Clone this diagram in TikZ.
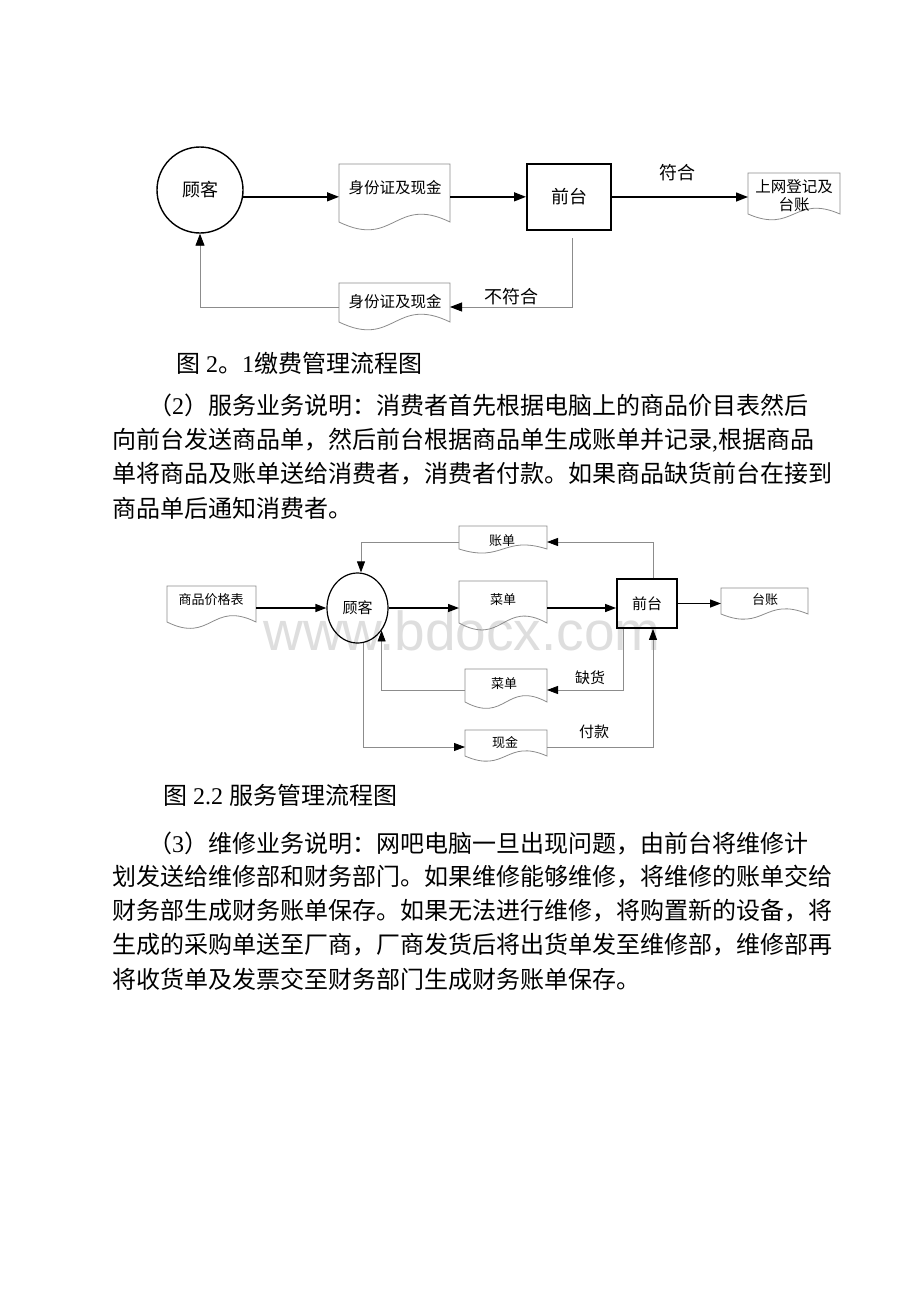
\documentclass[tikz,border=0pt]{standalone}
\usepackage{fontspec}
\setmainfont{Liberation Serif}
\newfontfamily\cjk{Noto Sans CJK SC}
\newfontfamily\latf{Liberation Serif}
\newfontfamily\wmfont{Liberation Sans}
\newcommand\rmnum[1]{{\latf #1}}
\usetikzlibrary{arrows.meta,shapes.geometric}
\tikzset{
  arr/.style={draw=black, line width=1.4pt, -{Triangle[length=12pt,width=9pt]}},
  garr/.style={draw=black!45, line width=0.9pt, -{Triangle[length=12pt,width=9pt,color=black]}},
  arrb/.style={draw=black, line width=1.3pt, -{Triangle[length=11pt,width=8pt]}},
  garrb/.style={draw=black!45, line width=0.8pt, -{Triangle[length=11pt,width=8pt,color=black]}},
  docline/.style={draw=black!45, line width=0.8pt},
  docarea/.style={inner sep=0pt, outer sep=0pt},
  tA/.style={font=\cjk\fontsize{18}{18}\selectfont, inner sep=0pt},
  tB/.style={font=\cjk\fontsize{15.5}{18}\selectfont, inner sep=0pt, align=center},
  tC/.style={font=\cjk\fontsize{13}{15}\selectfont, inner sep=0pt},
  tD/.style={font=\cjk\fontsize{15}{15}\selectfont, inner sep=0pt},
  body/.style={font=\cjk\fontsize{24}{24}\selectfont, inner sep=0pt, anchor=west},
}
% name, x0, ytop, x1, ycorner, amplitude, style
\newcommand\docshape[7]{%
  \path[#7] (#2,#5) -- (#2,#3) -- (#4,#3) -- (#4,#5)
     .. controls ({(#2+#4)/2},{#5-#6}) and ({(#2+#4)/2},{#5+#6}) .. (#2,#5) -- cycle;
  \node[docarea, minimum width={(#4-#2)*1pt}, minimum height={(#5-#3)*1pt}] (#1)
     at ({(#2+#4)/2},{(#3+#5)/2}) {};
}
\begin{document}
\begin{tikzpicture}[x=1pt,y=-1pt]
\useasboundingbox (0,0) rectangle (920,1302);
\fill[white] (0,0) rectangle (920,1302);

% ================= Diagram 2.1 =================
\node[circle, draw, line width=1.4pt, minimum size=86pt, inner sep=0pt, tA] (c1) at (200,190) {顾客};
\docshape{d1}{339}{164}{450}{222}{27}{docline}
\node[tB] (d1t) at (395,188) {身份证及现金};
\node[rectangle, draw, line width=2pt, minimum width=84pt, minimum height=66pt, tA] (f1) at (569,197) {前台};
\docshape{d3}{748}{173}{840}{214}{20}{docline}
\node[tB] (d3t) at (794,196) {上网登记及\\台账};
\docshape{d2}{339}{283}{450}{322}{27}{docline}
\node[tB] (d2t) at (395,302) {身份证及现金};

\draw[arr] (c1.-9) -- (c1.-9 -| d1.west);
\draw[arr] (c1.-9 -| d1.east) -- (c1.-9 -| f1.west);
\draw[arr] (f1.east) -- (f1.east -| d3.west);
\node[tA] (fh) at (677,173) {符合};

\coordinate (q1) at (572,307);
\draw[garr] (q1 |- 0,238) -- (q1) -- (q1 -| d2.east);
\node[tA] (bfh) at (511,297) {不符合};
\draw[garr] (q1 -| d2.west) -- (q1 -| c1.south) -- (c1.south);

% caption 1
\node[body] (cap1) at (176,363) {图\rmnum{ 2}。\rmnum{1}缴费管理流程图};

% paragraph 2
\node[body] (p2a) at (148,405) {（\rmnum{2}）服务业务说明：消费者首先根据电脑上的商品价目表然后};
\node[body] (p2b) at (112,440) {向前台发送商品单，然后前台根据商品单生成账单并记录\rmnum{,}根据商品};
\node[body] (p2c) at (112,474) {单将商品及账单送给消费者，消费者付款。如果商品缺货前台在接到};
\node[body] (p2d) at (112,508) {商品单后通知消费者。};

% ================= Diagram 2.2 =================
\node[font=\wmfont\fontsize{55}{55}\selectfont, text=black!13, inner sep=0pt, anchor=base] (wm) at (462,650) {www.bdocx.com};

\docshape{dz}{459}{526}{547}{549}{14}{docline}
\node[tC] (dzt) at (502,541) {账单};
\docshape{pr}{167}{586}{256}{622}{22}{docline}
\node[tC] (prt) at (211,600) {商品价格表};
\node[ellipse, draw, line width=1.2pt, minimum width=61pt, minimum height=70pt, inner sep=0pt, tD] (e) at (357.5,608) {顾客};
\docshape{cd1}{459}{581}{547}{623}{24}{docline}
\node[tC] (cd1t) at (503,600) {菜单};
\node[rectangle, draw, line width=1.8pt, minimum width=60pt, minimum height=49pt, tD] (f2) at (647,603.5) {前台};
\docshape{tz}{721}{588}{808}{614}{18}{docline}
\node[tC] (tzt) at (765,600) {台账};
\docshape{cd2}{465}{669}{547}{702}{22}{docline}
\node[tC] (cd2t) at (504,684) {菜单};
\docshape{xj}{465}{730}{547}{756}{18}{docline}
\node[tC] (xjt) at (505,743) {现金};

\draw[arrb] (e.west -| pr.east) -- (e.west);
\draw[arrb] (e.east) -- (e.east -| cd1.west);
\draw[arrb] (e.east -| cd1.east) -- (e.east -| f2.west);
\draw[arrb] (f2.east) -- (f2.east -| tz.west);

\coordinate (z1) at (653,542);
\coordinate (z2) at (361,542);
\draw[garrb] (z1 |- f2.north) -- (z1) -- (z1 -| dz.east);
\draw[garrb] (z2 -| dz.west) -- (z2) -- (z2 |- e.north);

\coordinate (k1) at (623,690);
\coordinate (k2) at (e.-43 |- 0,690);
\draw[garrb] (k1 |- f2.south) -- (k1) -- (k1 -| cd2.east);
\draw[garrb] (k2 -| cd2.west) -- (k2) -- (e.-43);
\node[tD] (qh) at (590,678) {缺货};

\coordinate (m1) at (e.-81 |- 0,747);
\coordinate (m2) at (653,747);
\draw[garrb] (e.-81) -- (m1) -- (m1 -| xj.west);
\draw[garrb] (m2 -| xj.east) -- (m2) -- (m2 |- f2.south);
\node[tD] (fk) at (594,732) {付款};

% caption 2
\node[body] (cap2) at (163,795) {图\rmnum{ 2.2 }服务管理流程图};

% paragraph 3
\node[body] (p3a) at (148,843) {（\rmnum{3}）维修业务说明：网吧电脑一旦出现问题，由前台将维修计};
\node[body] (p3b) at (112,877) {划发送给维修部和财务部门。如果维修能够维修，将维修的账单交给};
\node[body] (p3c) at (112,911) {财务部生成财务账单保存。如果无法进行维修，将购置新的设备，将};
\node[body] (p3d) at (112,945) {生成的采购单送至厂商，厂商发货后将出货单发至维修部，维修部再};
\node[body] (p3e) at (112,979) {将收货单及发票交至财务部门生成财务账单保存。};
\end{tikzpicture}
\end{document}
